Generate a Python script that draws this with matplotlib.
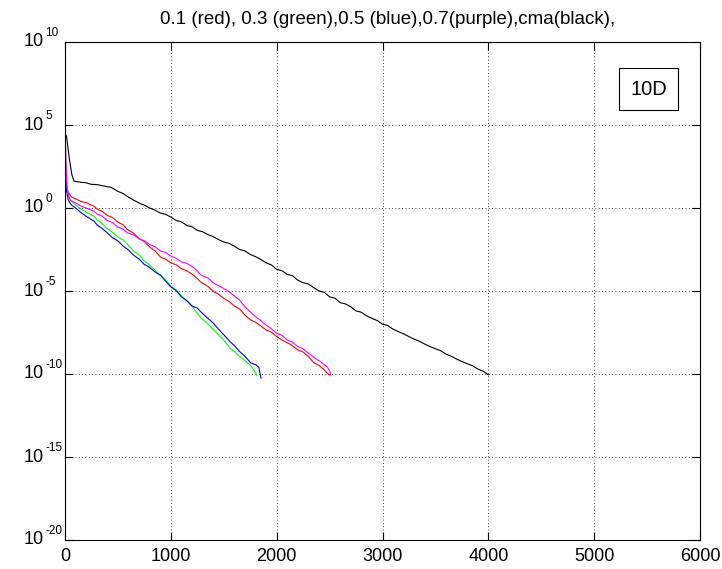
import numpy as np
import matplotlib
matplotlib.use("Agg")
import matplotlib.pyplot as plt
import matplotlib.transforms as mtransforms
from matplotlib.patches import Rectangle

plt.rcParams['font.family'] = ['Liberation Sans', 'DejaVu Sans']

# evaluations / log10(fitness)
red_x = [0, 10, 25, 57, 100, 150, 200, 276, 300, 350, 400, 450, 500, 550, 590, 650, 700, 750, 800, 850,
         906, 950, 1000, 1050, 1100, 1150, 1220, 1283, 1350, 1410, 1450, 1500, 1550, 1600, 1650, 1700,
         1755, 1800, 1850, 1900, 1950, 2000, 2050, 2100, 2150, 2200, 2250, 2300, 2352, 2400, 2450, 2494]
red_y = [2.5, 1.5, 1.0, 0.69, 0.55, 0.4, 0.32, 0.1, -0.05, -0.2, -0.45, -0.58, -0.85, -1.02, -1.29, -1.52,
         -1.85, -2.02, -2.35, -2.58, -2.98, -3.08, -3.3, -3.42, -3.65, -3.78, -4.07, -4.46, -4.72, -5.06,
         -5.18, -5.45, -5.62, -5.9, -6.08, -6.45, -6.75, -6.88, -7.1, -7.35, -7.48, -7.74, -7.95, -8.12,
         -8.3, -8.55, -8.68, -8.95, -9.33, -9.48, -9.75, -10.05]

mag_x = [0, 8, 20, 40, 57, 100, 150, 200, 276, 300, 350, 400, 450, 500, 550, 590, 650, 700, 750, 800,
         850, 906, 950, 1000, 1050, 1100, 1150, 1220, 1283, 1350, 1400, 1450, 1500, 1550, 1600, 1650,
         1700, 1750, 1800, 1850, 1900, 1950, 2000, 2050, 2100, 2150, 2200, 2250, 2300, 2350, 2400, 2450,
         2480, 2503, 2510]
mag_y = [5.0, 3.0, 1.2, 0.6, 0.45, 0.3, 0.12, 0.0, -0.2, -0.35, -0.48, -0.75, -0.88, -1.15, -1.28, -1.5,
         -1.63, -1.85, -1.98, -2.2, -2.33, -2.6, -2.68, -2.9, -3.03, -3.25, -3.33, -3.6, -4.03, -4.22,
         -4.5, -4.68, -4.85, -5.03, -5.3, -5.55, -5.95, -6.25, -6.55, -6.78, -7.05, -7.28, -7.54, -7.68,
         -7.95, -8.08, -8.35, -8.48, -8.75, -8.98, -9.2, -9.43, -9.6, -9.85, -10.05]

green_x = [0, 4, 10, 20, 35, 57, 100, 150, 200, 276, 300, 350, 400, 450, 500, 550, 590, 650, 700, 750,
           800, 850, 906, 950, 1000, 1050, 1100, 1150, 1200, 1250, 1283, 1350, 1400, 1450, 1500, 1566,
           1600, 1650, 1700, 1755, 1790, 1815]
green_y = [6.0, 4.0, 2.2, 1.2, 0.7, 0.4, 0.2, -0.05, -0.25, -0.5, -0.7, -0.93, -1.25, -1.48, -1.75, -1.93,
           -2.18, -2.6, -2.83, -3.2, -3.43, -3.75, -4.07, -4.33, -4.7, -4.93, -5.3, -5.58, -5.9, -6.35,
           -6.6, -6.98, -7.3, -7.63, -7.95, -8.5, -8.63, -8.95, -9.18, -9.5, -9.8, -10.1]

blue_x = [0, 5, 15, 30, 57, 100, 150, 200, 276, 300, 350, 400, 450, 500, 550, 590, 650, 700, 750, 800,
          850, 906, 950, 1000, 1050, 1100, 1150, 1200, 1250, 1283, 1350, 1400, 1450, 1500, 1566, 1600,
          1650, 1700, 1755, 1800, 1832, 1852]
blue_y = [3.0, 2.2, 1.0, 0.5, 0.2, 0.0, -0.27, -0.5, -0.8, -1.0, -1.23, -1.5, -1.8, -1.98, -2.3, -2.48,
          -2.85, -3.08, -3.4, -3.58, -3.85, -4.07, -4.4, -4.75, -4.98, -5.35, -5.58, -5.9, -6.03, -6.25,
          -6.65, -6.93, -7.3, -7.63, -8.1, -8.28, -8.65, -8.93, -9.33, -9.43, -9.6, -10.25]

cma_x = [0, 15, 40, 65, 85, 100, 150, 200, 245, 300, 350, 400, 434, 500, 550, 600, 650, 717, 750, 800,
         850, 900, 950, 1000, 1050, 1100, 1150, 1200, 1250, 1300, 1350, 1400, 1450, 1500, 1550, 1600,
         1650, 1700, 1750, 1800, 1850, 1900, 1950, 2000, 2050, 2100, 2150, 2200, 2250, 2300, 2350, 2400,
         2450, 2500, 2550, 2600, 2650, 2700, 2750, 2800, 2850, 2900, 2950, 3000, 3050, 3100, 3150, 3200,
         3250, 3300, 3350, 3400, 3450, 3500, 3550, 3600, 3650, 3700, 3750, 3800, 3850, 3900, 3950, 4000]
cma_y = [4.5, 4.3, 3.0, 2.0, 1.62, 1.6, 1.55, 1.52, 1.43, 1.41, 1.35, 1.28, 1.25, 1.0, 0.87, 0.65, 0.47,
         0.25, 0.17, 0.0, -0.13, -0.3, -0.38, -0.55, -0.75, -0.83, -1.05, -1.13, -1.35, -1.43, -1.6,
         -1.72, -1.9, -2.05, -2.13, -2.3, -2.5, -2.58, -2.8, -2.93, -3.1, -3.3, -3.43, -3.7, -3.78, -4.0,
         -4.08, -4.35, -4.5, -4.58, -4.8, -5.0, -5.08, -5.35, -5.43, -5.7, -5.78, -5.95, -6.2, -6.28,
         -6.5, -6.65, -6.78, -7.0, -7.08, -7.3, -7.45, -7.58, -7.75, -7.9, -8.03, -8.2, -8.35, -8.48,
         -8.6, -8.8, -8.93, -9.1, -9.25, -9.38, -9.5, -9.7, -9.83, -10.05]

x_ticks = [0, 1000, 2000, 3000, 4000, 5000, 6000]
y_exps = [-20, -15, -10, -5, 0, 5, 10]
title = '0.1 (red), 0.3 (green),0.5 (blue),0.7(purple),cma(black),'

fig = plt.figure(figsize=(7.22, 5.69), dpi=100)
ax = fig.add_axes([65 / 722, 29 / 569, 635 / 722, 498 / 569])

ax.semilogy(red_x, 10 ** np.array(red_y), color='#ff0000', lw=0.8)
ax.semilogy(green_x, 10 ** np.array(green_y), color='#00ff00', lw=0.8)
ax.semilogy(blue_x, 10 ** np.array(blue_y), color='#0000ff', lw=0.8)
ax.semilogy(mag_x, 10 ** np.array(mag_y), color='#ff00ff', lw=0.8)
ax.semilogy(cma_x, 10 ** np.array(cma_y), color='#000000', lw=0.8)

ax.set_xlim(0, 6000)
ax.set_ylim(1e-20, 1e10)
ax.set_xticks(x_ticks)
ax.set_xticklabels([str(v) for v in x_ticks], fontsize=13)
ax.set_yticks([10.0 ** e for e in y_exps])
ax.set_yticklabels([])
ax.minorticks_off()
ax.tick_params(direction='in', top=True, right=True, length=6, pad=6)
ax.grid(True, color='black', linestyle=(0, (1, 3)), lw=0.6)
for s in ax.spines.values():
    s.set_linewidth(0.8)

# y labels drawn as "10" plus a small raised exponent
base_tr = mtransforms.offset_copy(ax.get_yaxis_transform(), fig, x=-21, y=0, units='dots')
exp_tr = mtransforms.offset_copy(ax.get_yaxis_transform(), fig, x=-20, y=9, units='dots')
for e in y_exps:
    ax.text(0, 10.0 ** e, '10', transform=base_tr, ha='right', va='center',
            fontsize=13, clip_on=False)
    ax.text(0, 10.0 ** e, str(e), transform=exp_tr, ha='left', va='center',
            fontsize=8.5, clip_on=False)

ax.add_patch(Rectangle((0.8724, 0.8635), 0.0929, 0.0843, transform=ax.transAxes,
                       fc='white', ec='black', lw=0.8, zorder=5))
ax.text(0.919, 0.9056, '10D', transform=ax.transAxes, ha='center', va='center',
        fontsize=14.5, zorder=6)

fig.text(388 / 722, 1 - 20 / 569, title, ha='center', va='center', fontsize=13.5)

fig.savefig('out.png', dpi=100)
